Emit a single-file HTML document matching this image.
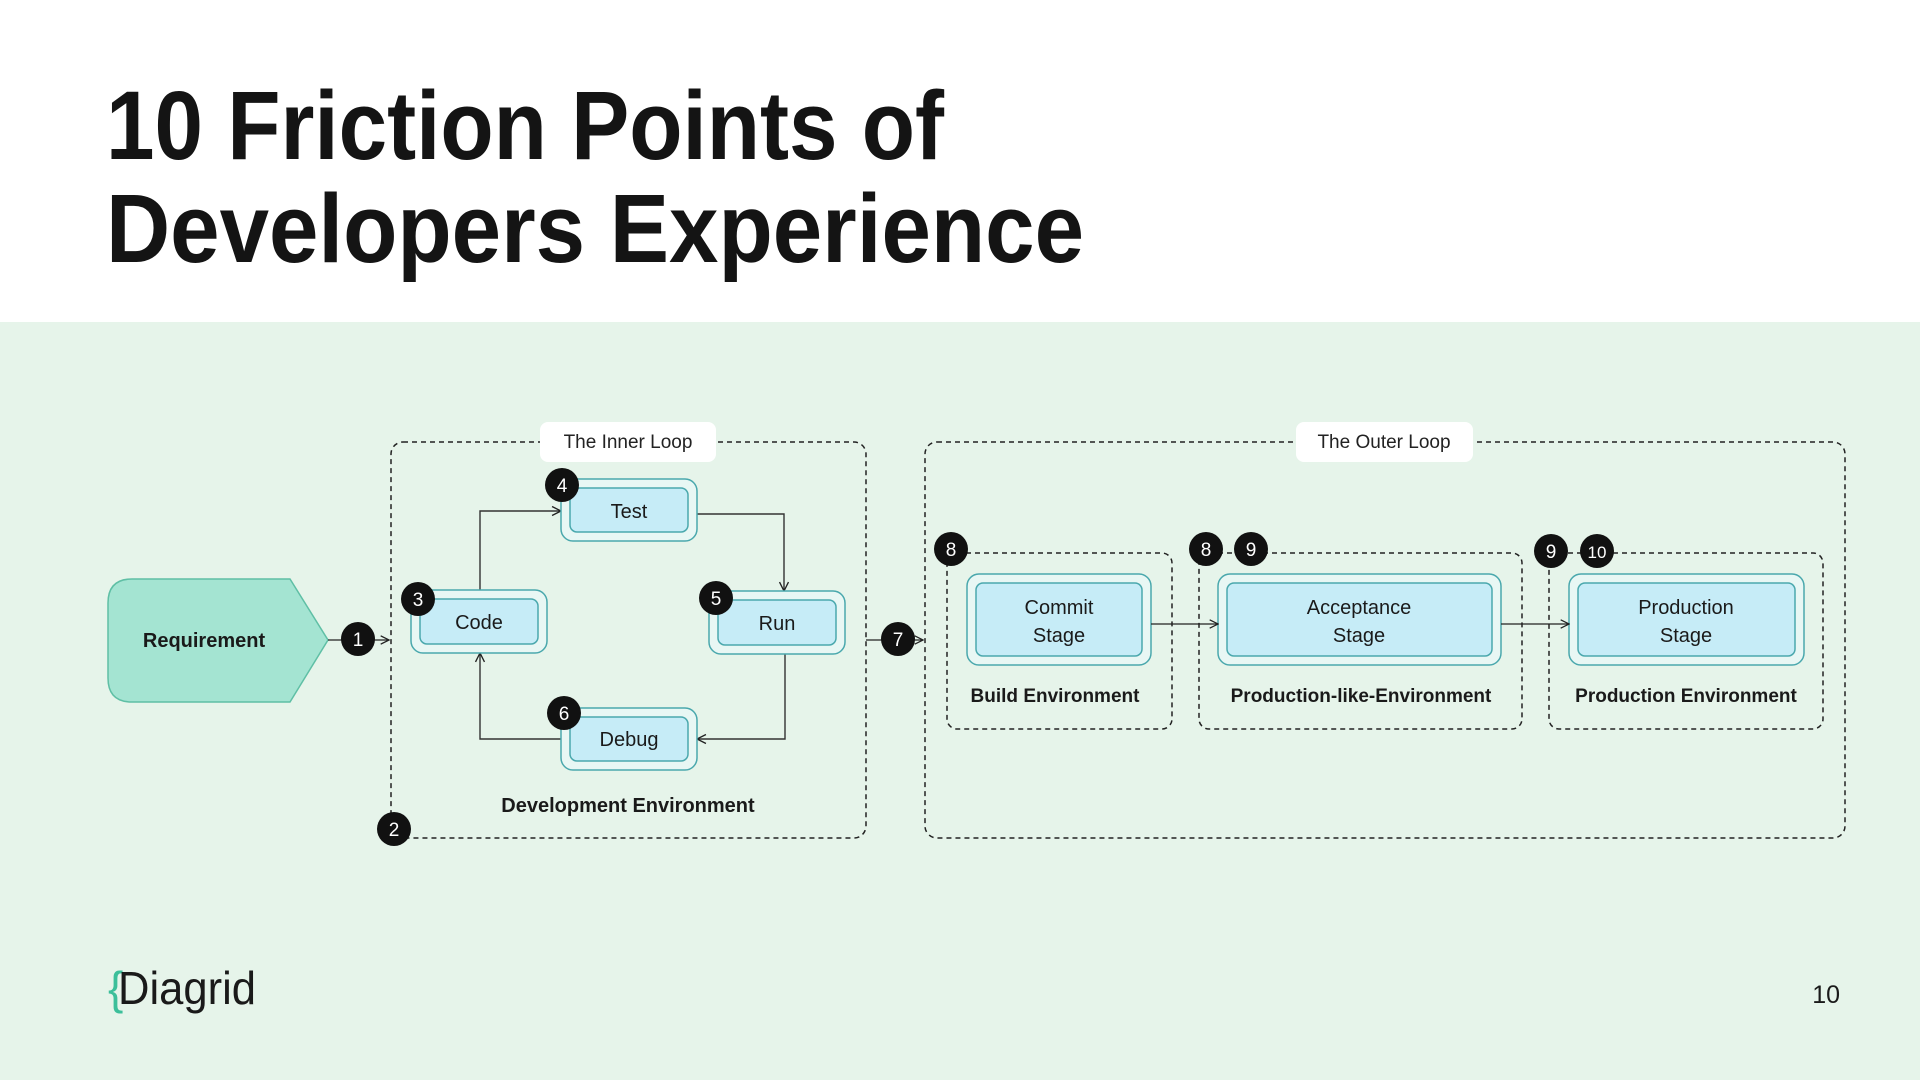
<!DOCTYPE html>
<html><head><meta charset="utf-8"><style>
html,body{margin:0;padding:0;width:1920px;height:1080px;overflow:hidden;background:#fff}
svg{display:block}
text{font-family:"Liberation Sans",sans-serif}
</style></head><body>
<svg width="1920" height="1080" viewBox="0 0 1920 1080" xmlns="http://www.w3.org/2000/svg">
<defs>
<marker id="ar" viewBox="0 0 10 10" refX="9" refY="5" markerWidth="8" markerHeight="8" orient="auto"><path d="M1 1L9 5L1 9" fill="none" stroke="#222" stroke-width="1.2"/></marker>
</defs>
<rect width="1920" height="322" fill="#fff"/>
<rect y="322" width="1920" height="758" fill="#e6f4ea"/>
<text x="106" y="159" font-size="97" font-weight="bold" fill="#141414" textLength="838" lengthAdjust="spacingAndGlyphs">10 Friction Points of</text>
<text x="106" y="262" font-size="97" font-weight="bold" fill="#141414" textLength="978" lengthAdjust="spacingAndGlyphs">Developers Experience</text>

<!-- loops -->
<rect x="391" y="442" width="475" height="396" rx="12" fill="none" stroke="#222" stroke-width="1.5" stroke-dasharray="5 4"/>
<rect x="925" y="442" width="920" height="396" rx="12" fill="none" stroke="#222" stroke-width="1.5" stroke-dasharray="5 4"/>
<rect x="540" y="422" width="176" height="40" rx="8" fill="#fff"/>
<text x="628" y="448" font-size="19" text-anchor="middle" fill="#222">The Inner Loop</text>
<rect x="1296" y="422" width="177" height="40" rx="8" fill="#fff"/>
<text x="1384" y="448" font-size="19" text-anchor="middle" fill="#222">The Outer Loop</text>

<!-- requirement -->
<path d="M132 579H290L328 640L290 702H132Q108 702 108 678V603Q108 579 132 579Z" fill="#a4e4d2" stroke="#5fbfa5" stroke-width="1.5"/>
<text x="204" y="647" font-size="20" font-weight="bold" text-anchor="middle" fill="#1a1a1a">Requirement</text>
<line x1="328" y1="640" x2="389" y2="640" stroke="#222" stroke-width="1.3" marker-end="url(#ar)"/>
<line x1="866" y1="640" x2="923" y2="640" stroke="#222" stroke-width="1.3" marker-end="url(#ar)"/>

<!-- inner connectors -->
<g fill="none" stroke="#333" stroke-width="1.4">
<path d="M480 590V511H561" marker-end="url(#ar)"/>
<path d="M697 514H784V591" marker-end="url(#ar)"/>
<path d="M785 654V739H697" marker-end="url(#ar)"/>
<path d="M561 739H480V653" marker-end="url(#ar)"/>
</g>

<!-- nodes -->
<g stroke="#4aa8ad" stroke-width="1.5">
<rect x="411" y="590" width="136" height="63" rx="12" fill="#e8f7f4"/>
<rect x="420" y="599" width="118" height="45" rx="7" fill="#c6ecf7"/>
<rect x="561" y="479" width="136" height="62" rx="12" fill="#e8f7f4"/>
<rect x="570" y="488" width="118" height="44" rx="7" fill="#c6ecf7"/>
<rect x="709" y="591" width="136" height="63" rx="12" fill="#e8f7f4"/>
<rect x="718" y="600" width="118" height="45" rx="7" fill="#c6ecf7"/>
<rect x="561" y="708" width="136" height="62" rx="12" fill="#e8f7f4"/>
<rect x="570" y="717" width="118" height="44" rx="7" fill="#c6ecf7"/>
</g>
<g font-size="20" text-anchor="middle" fill="#1a1a1a">
<text x="479" y="629">Code</text>
<text x="629" y="518">Test</text>
<text x="777" y="630">Run</text>
<text x="629" y="746">Debug</text>
</g>
<text x="628" y="812" font-size="20" font-weight="bold" text-anchor="middle" fill="#1a1a1a">Development Environment</text>

<!-- outer envs -->
<g fill="none" stroke="#222" stroke-width="1.5" stroke-dasharray="5 4">
<rect x="947" y="553" width="225" height="176" rx="10"/>
<rect x="1199" y="553" width="323" height="176" rx="10"/>
<rect x="1549" y="553" width="274" height="176" rx="10"/>
</g>
<g stroke="#4aa8ad" stroke-width="1.5">
<rect x="967" y="574" width="184" height="91" rx="12" fill="#e8f7f4"/>
<rect x="976" y="583" width="166" height="73" rx="7" fill="#c6ecf7"/>
<rect x="1218" y="574" width="283" height="91" rx="12" fill="#e8f7f4"/>
<rect x="1227" y="583" width="265" height="73" rx="7" fill="#c6ecf7"/>
<rect x="1569" y="574" width="235" height="91" rx="12" fill="#e8f7f4"/>
<rect x="1578" y="583" width="217" height="73" rx="7" fill="#c6ecf7"/>
</g>
<line x1="1151" y1="624" x2="1218" y2="624" stroke="#222" stroke-width="1.3" marker-end="url(#ar)"/>
<line x1="1501" y1="624" x2="1569" y2="624" stroke="#222" stroke-width="1.3" marker-end="url(#ar)"/>
<g font-size="20" text-anchor="middle" fill="#1a1a1a">
<text x="1059" y="614">Commit</text><text x="1059" y="642">Stage</text>
<text x="1359" y="614">Acceptance</text><text x="1359" y="642">Stage</text>
<text x="1686" y="614">Production</text><text x="1686" y="642">Stage</text>
</g>
<g font-size="19" font-weight="bold" text-anchor="middle" fill="#1a1a1a">
<text x="1055" y="702">Build Environment</text>
<text x="1361" y="702">Production-like-Environment</text>
<text x="1686" y="702">Production Environment</text>
</g>

<!-- badges -->
<g fill="#111">
<circle cx="358" cy="639" r="17"/><circle cx="394" cy="829" r="17"/>
<circle cx="418" cy="599" r="17"/><circle cx="562" cy="485" r="17"/>
<circle cx="716" cy="598" r="17"/><circle cx="564" cy="713" r="17"/>
<circle cx="898" cy="639" r="17"/>
<circle cx="951" cy="549" r="17"/><circle cx="1206" cy="549" r="17"/>
<circle cx="1251" cy="549" r="17"/><circle cx="1551" cy="551" r="17"/>
<circle cx="1597" cy="551" r="17"/>
</g>
<g font-size="19" text-anchor="middle" fill="#fff">
<text x="358" y="646">1</text><text x="394" y="836">2</text>
<text x="418" y="606">3</text><text x="562" y="492">4</text>
<text x="716" y="605">5</text><text x="564" y="720">6</text>
<text x="898" y="646">7</text>
<text x="951" y="556">8</text><text x="1206" y="556">8</text>
<text x="1251" y="556">9</text><text x="1551" y="558">9</text>
<text x="1597" y="558" font-size="17">10</text>
</g>

<!-- footer -->
<text x="108" y="1004" font-size="46" fill="#3cbf9a">{</text>
<text x="118" y="1004" font-size="46" fill="#1a1a1a" textLength="138" lengthAdjust="spacingAndGlyphs">Diagrid</text>
<text x="1840" y="1003" font-size="25" text-anchor="end" fill="#1a1a1a">10</text>
</svg>
</body></html>
